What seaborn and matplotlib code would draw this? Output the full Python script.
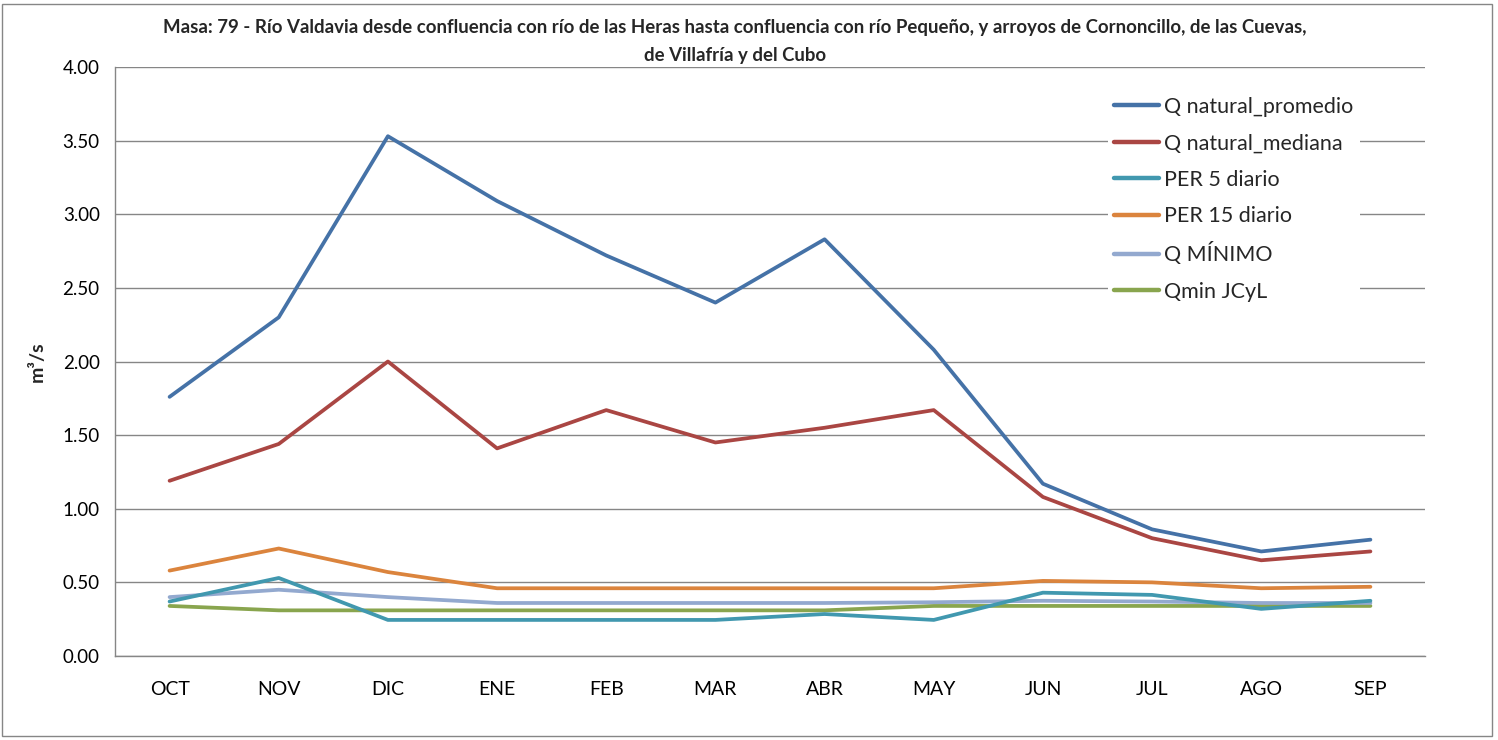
import numpy as np
import pandas as pd
import matplotlib
matplotlib.use("Agg")
import matplotlib.pyplot as plt
from matplotlib.patches import Rectangle
import seaborn as sns

months = ["OCT", "NOV", "DIC", "ENE", "FEB", "MAR", "ABR", "MAY", "JUN", "JUL", "AGO", "SEP"]

q_promedio = [1.76, 2.30, 3.53, 3.09, 2.72, 2.40, 2.83, 2.08, 1.17, 0.86, 0.71, 0.79]
q_mediana = [1.19, 1.44, 2.00, 1.41, 1.67, 1.45, 1.55, 1.67, 1.08, 0.80, 0.65, 0.71]
per5 = [0.37, 0.53, 0.245, 0.245, 0.245, 0.245, 0.285, 0.245, 0.43, 0.415, 0.32, 0.375]
per15 = [0.58, 0.73, 0.57, 0.46, 0.46, 0.46, 0.46, 0.46, 0.51, 0.50, 0.46, 0.47]
q_minimo = [0.40, 0.45, 0.40, 0.36, 0.36, 0.36, 0.36, 0.365, 0.375, 0.37, 0.36, 0.36]
qmin_jcyl = [0.34, 0.31, 0.31, 0.31, 0.31, 0.31, 0.31, 0.34, 0.34, 0.34, 0.34, 0.34]

series_names = ["Q natural_promedio", "Q natural_mediana", "PER 5 diario",
                "PER 15 diario", "Q MÍNIMO", "Qmin JCyL"]
series_values = [q_promedio, q_mediana, per5, per15, q_minimo, qmin_jcyl]
colors = ["#4572A7", "#AA4643", "#4198AF", "#DB843D", "#93A9CF", "#89A54E"]

rows = []
for name, vals in zip(series_names, series_values):
    for i, v in enumerate(vals):
        rows.append({"mes": i, "caudal": v, "serie": name})
df = pd.DataFrame(rows)

sns.set_theme(style="white")
plt.rcParams["font.family"] = ["Lato", "DejaVu Sans"]

fig = plt.figure(figsize=(14.98, 7.40), dpi=100)
ax = fig.add_axes([115 / 1498, 1 - 656 / 740, (1425 - 115) / 1498, (656 - 67) / 740])

# draw in reverse so the first series sits on top
draw_order = series_names[::-1]
for name in draw_order:
    sub = df[df["serie"] == name]
    sns.lineplot(data=sub, x="mes", y="caudal", color=colors[series_names.index(name)],
                 linewidth=2.7, ax=ax, sort=False, label=name,
                 solid_capstyle="round", solid_joinstyle="round")

ax.set_xlim(-0.5, 11.5)
ax.set_ylim(0, 4.0)
ax.set_yticks(np.arange(0, 4.01, 0.5))
ax.set_yticklabels([f"{v:.2f}" for v in np.arange(0, 4.01, 0.5)], fontsize=13.5)
ax.set_xticks(range(12))
ax.set_xticklabels(months, fontsize=14)
ax.set_xticks(np.arange(-0.5, 12, 1), minor=True)
ax.tick_params(axis="x", which="major", length=0, pad=18, colors="black")
ax.tick_params(axis="x", which="minor", length=7, width=1, color="#868686", direction="out")
ax.tick_params(axis="y", which="major", length=7, width=1, color="#868686", direction="out",
               pad=4, colors="black")
ax.tick_params(axis="y", color="#868686")
ax.yaxis.grid(True, color="#868686", linewidth=1)
ax.set_axisbelow(True)
for s in ["top", "right"]:
    ax.spines[s].set_visible(False)
for s in ["left", "bottom"]:
    ax.spines[s].set_color("#868686")
    ax.spines[s].set_linewidth(1)

ax.set_xlabel("")
ax.set_ylabel("m³/s", fontsize=14, fontweight="bold", labelpad=12)

# legend with an opaque white box that interrupts the gridlines
handles, labels = ax.get_legend_handles_labels()
hmap = dict(zip(labels, handles))
leg = ax.legend([hmap[n] for n in series_names], series_names, loc="upper left",
                bbox_to_anchor=(1107.5 / 1498, 1 - 90.5 / 740), bbox_transform=fig.transFigure,
                frameon=True, facecolor="white", edgecolor="none", framealpha=1,
                fancybox=False, borderpad=0.3,
                fontsize=15.5, handlelength=2.1, handletextpad=0.23,
                labelspacing=0.76, borderaxespad=0)
for line in leg.get_lines():
    line.set_linewidth(3.2)

fig.text(735 / 1498, 1 - 28 / 740,
         "Masa: 79 - Río Valdavia desde confluencia con río de las Heras hasta confluencia con río Pequeño, y arroyos de Cornoncillo, de las Cuevas,",
         ha="center", va="center", fontsize=13.4, fontweight="bold")
fig.text(735 / 1498, 1 - 55 / 740, "de Villafría y del Cubo",
         ha="center", va="center", fontsize=13.4, fontweight="bold")

fig.add_artist(Rectangle((2 / 1498, 4 / 740), 1490 / 1498, 732 / 740,
                         transform=fig.transFigure, fill=False,
                         edgecolor="#868686", linewidth=1))

fig.savefig("out.png", dpi=100)
